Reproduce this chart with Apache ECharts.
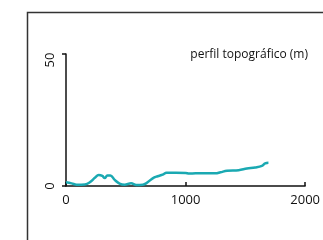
<!DOCTYPE html>
<html lang="es">
<head>
    <meta charset="UTF-8">
    <title>perfil topográfico</title>
    <script src="https://cdn.jsdelivr.net/npm/echarts@6/dist/echarts.min.js"></script>
    <style>
        body { margin: 0; padding: 0; background: #ffffff; }
        #chart { width: 323px; height: 240px; }
    </style>
</head>
<body>
<div id="chart"></div>
<script>
    var distancia = [0, 47, 89, 158, 199, 241, 274, 304, 324, 346, 371, 407, 448, 490, 545, 587, 642, 670, 725, 766, 808, 841, 919, 1001, 1029, 1084, 1250, 1292, 1347, 1444, 1513, 1582, 1638, 1666, 1693];
    var altura = [1.4, 1.0, 0.5, 0.6, 1.4, 3.1, 4.2, 3.8, 3.0, 4.0, 4.0, 2.3, 0.9, 0.5, 1.0, 0.4, 0.5, 1.0, 2.9, 3.7, 4.3, 5.0, 5.0, 4.9, 4.7, 4.8, 4.8, 5.2, 5.8, 6.0, 6.6, 7.0, 7.6, 8.6, 8.8];
    var xTicks = [0, 1000, 2000];
    var yTicks = [0, 50];
    var titulo = 'perfil topográfico (m)';

    var puntos = distancia.map(function (d, i) { return [d, altura[i]]; });

    var chart = echarts.init(document.getElementById('chart'));
    var fuente = '"Open Sans", sans-serif';

    chart.setOption({
        animation: false,
        backgroundColor: '#ffffff',
        grid: { left: 66, top: 54, right: 16, bottom: 54 },
        graphic: [
            {
                type: 'rect',
                left: 25, top: 10,
                shape: { width: 330, height: 260 },
                style: { fill: 'none', stroke: '#333333', lineWidth: 1.5 }
            },
            {
                type: 'text',
                right: 15, top: 49,
                style: { text: titulo, fill: '#111111', font: '12px ' + fuente }
            }
        ],
        xAxis: {
            type: 'value',
            min: xTicks[0], max: xTicks[xTicks.length - 1], interval: 1000,
            axisLine: { show: true, lineStyle: { color: '#111111', width: 1.5 } },
            axisTick: { show: true, inside: true, length: 4, lineStyle: { color: '#111111', width: 1.5 } },
            axisLabel: {
                color: '#111111', fontSize: 13, fontFamily: fuente, margin: 8,
                formatter: function (v) { return String(v); }
            },
            splitLine: { show: false }
        },
        yAxis: {
            type: 'value',
            min: yTicks[0], max: yTicks[yTicks.length - 1], interval: 50,
            axisLine: { show: true, lineStyle: { color: '#111111', width: 1.5 } },
            axisTick: { show: true, length: 4, lineStyle: { color: '#111111', width: 1.5 } },
            axisLabel: {
                color: '#111111', fontSize: 13, fontFamily: fuente, rotate: 90, margin: 9,
                formatter: function (v) { return v === 50 ? '{b|50}' : String(v); },
                rich: { b: { fontSize: 13, fontFamily: fuente, color: '#111111', padding: [0, 12, 0, 0] } }
            },
            splitLine: { show: false }
        },
        series: [{
            type: 'line',
            data: puntos,
            smooth: 0.4,
            showSymbol: false,
            lineStyle: { color: '#1aa9b2', width: 2.5 }
        }]
    });
</script>
</body>
</html>
